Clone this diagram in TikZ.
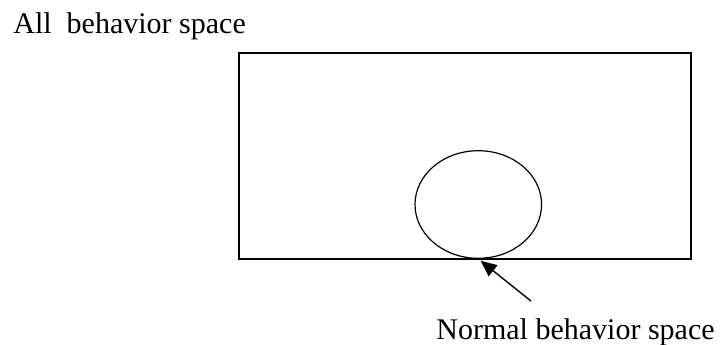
\documentclass[tikz,border=0pt]{standalone}
\usepackage{fontspec}
\setmainfont{Liberation Serif}
\usetikzlibrary{positioning,shapes.geometric,arrows.meta}

\begin{document}
\begin{tikzpicture}[x=0.5pt, y=-0.5pt, font=\fontsize{15}{17}\selectfont]
  \useasboundingbox (0,0) rectangle (720,344);
  \node[draw, line width=0.8pt, inner sep=0pt, minimum width=226pt, minimum height=103pt, anchor=north west] (space) at (238.5,52) {};
  \node[ellipse, draw, line width=0.6pt, inner sep=0pt, minimum width=63.3pt, minimum height=53.8pt] (normal) at (478.3,204.5) {};
  \node[anchor=base west, inner sep=0pt] (alllabel) at (13,33) {All\ \ behavior space};
  \node[anchor=base west, inner sep=0pt] (normallabel) at (436,339) {Normal behavior space};
  \coordinate (tail) at (531,301);
  \draw[-{Triangle[length=8pt,width=7pt]}, line width=0.7pt, shorten >=1.5pt] (tail) -- (normal.south);
\end{tikzpicture}
\end{document}
